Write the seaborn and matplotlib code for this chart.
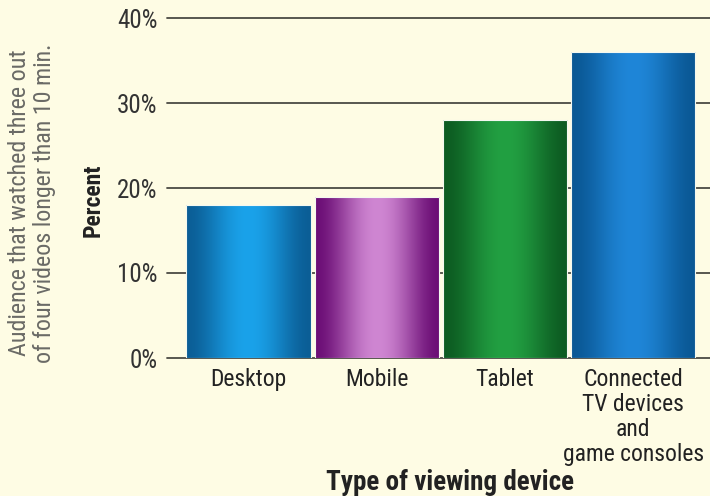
import numpy as np
import pandas as pd
import matplotlib
matplotlib.use("Agg")
import matplotlib.pyplot as plt
import matplotlib.colors as mcolors
from matplotlib import font_manager
import seaborn as sns

# Share of the audience that watched three out of four videos longer than 10 min.
devices = ["Desktop", "Mobile", "Tablet", "Connected\nTV devices\nand\ngame consoles"]
percent = [18, 19, 28, 36]
y_ticks = [0, 10, 20, 30, 40]
y_tick_labels = ["0%", "10%", "20%", "30%", "40%"]

# Edge (dark) and highlight (light) tones for each cylinder-style bar
edge_colors = ["#0B5E96", "#6C0E76", "#0D5C22", "#0A5895"]
mid_colors = ["#1AA2EA", "#CF86D2", "#22A042", "#1F86D8"]

BG = "#FEFCE4"

sns.set_theme(style="white")

# Pick a narrow sans face if one is installed
names = {f.name for f in font_manager.fontManager.ttflist}
stretches = {(f.name, f.stretch) for f in font_manager.fontManager.ttflist}
family, stretch = "DejaVu Sans", "normal"
for cand in ["Liberation Sans Narrow", "Roboto Condensed", "Open Sans Condensed",
             "DejaVu Sans Condensed", "Noto Sans Condensed"]:
    if cand in names:
        family = cand
        break
else:
    for nm, st in stretches:
        if nm in ("DejaVu Sans", "Noto Sans", "Open Sans") and st in ("condensed", 75, "semi-condensed", 87.5):
            family, stretch = nm, "condensed"
            break
plt.rcParams["font.family"] = [family, "DejaVu Sans"]
plt.rcParams["font.stretch"] = stretch

fig = plt.figure(figsize=(7.1, 4.96), dpi=100, facecolor=BG)
ax = fig.add_axes([167 / 710, 138 / 496, 543 / 710, 340 / 496])
ax.set_facecolor(BG)

df = pd.DataFrame({"device": devices, "percent": percent})
sns.barplot(data=df, x="device", y="percent", hue="device", palette=edge_colors,
            width=0.97, legend=False, ax=ax, zorder=3, edgecolor="none")

ax.set_xlim(-0.637, 3.6)
ax.set_ylim(0, 40)

# Cylinder shading: horizontal gradient clipped to each bar
for patch, c_edge, c_mid in zip(ax.patches, edge_colors, mid_colors):
    x0, y0 = patch.get_x(), patch.get_y()
    w, h = patch.get_width(), patch.get_height()
    t = np.linspace(0, 1, 256)
    prof = np.sin(np.pi * t) ** 1.8
    e = np.array(mcolors.to_rgb(c_edge))
    m = np.array(mcolors.to_rgb(c_mid))
    row = e[None, :] * (1 - prof[:, None]) + m[None, :] * prof[:, None]
    img = np.repeat(row[None, :, :], 2, axis=0)
    im = ax.imshow(img, extent=[x0, x0 + w, y0, y0 + h], aspect="auto",
                   zorder=4, interpolation="bilinear")
    im.set_clip_path(patch)
    # thin pale rim around the bar
    ax.add_patch(plt.Rectangle((x0, y0), w, h, fill=False, edgecolor="#F4F8F0",
                               linewidth=0.8, zorder=5))

# Horizontal rules behind the bars
for yv in y_ticks:
    ax.axhline(yv, color="#4A4A44", linewidth=1.3, zorder=1, clip_on=False)

for s in ax.spines.values():
    s.set_visible(False)

ax.set_yticks(y_ticks)
ax.set_yticklabels(y_tick_labels, fontsize=18, color="#333333")
ax.tick_params(axis="y", length=0, pad=7)
ax.set_xticks(range(len(devices)))
ax.set_xticklabels(devices, fontsize=17, color="#222222", linespacing=1.12)
ax.tick_params(axis="x", length=0, pad=7)
ax.set_xlabel("")
ax.set_ylabel("")

fig.text(450 / 710, 1 - 483 / 496, "Type of viewing device", ha="center", va="center",
         fontsize=19.5, fontweight="bold", color="#222222")
fig.text(93 / 710, 1 - 200 / 496, "Percent", ha="center", va="center", rotation=90,
         fontsize=17, fontweight="bold", color="#222222")
fig.text(32 / 710, 1 - 203 / 496,
         "Audience that watched three out\nof four videos longer than 10 min.",
         ha="center", va="center", rotation=90, fontsize=17.3, color="#6A6A66",
         linespacing=1.15)

fig.savefig("out.png", dpi=100, facecolor=BG)
